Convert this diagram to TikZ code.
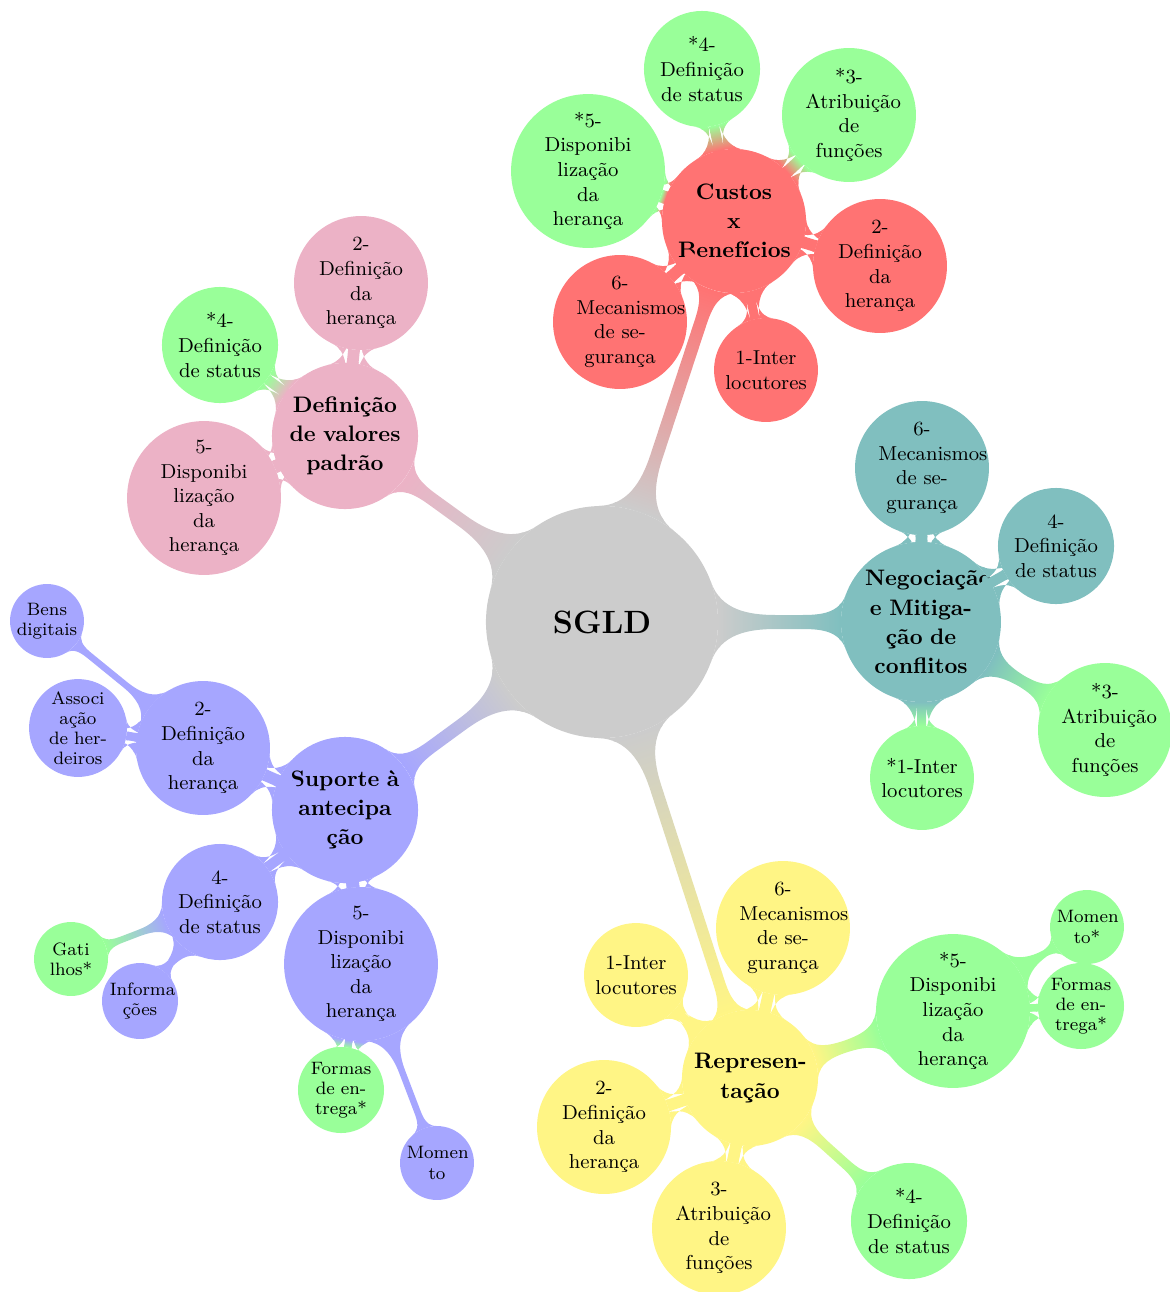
\documentclass[tikz,border=0pt]{standalone}
\usetikzlibrary{mindmap}
\definecolor{cgray}{gray}{0.8}
\colorlet{cred}{red!55}
\colorlet{cgreen}{green!40}
\colorlet{cteal}{teal!50}
\colorlet{cblue}{blue!35}
\colorlet{cpink}{purple!30}
\definecolor{cyel}{RGB}{255,245,133}
\tikzset{
  cbase/.style={circle, inner sep=0pt, align=center, text=black},
  Lzero/.style={cbase, minimum size=103.6pt, font=\Large\bfseries},
  Lone/.style={cbase, text width=50pt, font=\fontsize{10}{13}\selectfont\bfseries},
  Ltwo/.style={cbase, text width=39pt, font=\small},
  Lthree/.style={cbase, text width=27pt, font=\fontsize{8}{9}\selectfont},
  dfour/.style={minimum size=59.8pt},
  dthree/.style={minimum size=51.8pt},
  dfive/.style={minimum size=68.7pt},
  dtwo/.style={minimum size=46.4pt},
  sm/.style={minimum size=33pt},
}
\newcommand{\conn}[5][6pt]{\path[line width=#1] (#2) to[circle connection bar switch color=from (#4) to (#5)] (#3);}
\begin{document}
\begin{tikzpicture}[mindmap, x=0.4464pt, y=-0.4464pt]
\useasboundingbox (0,0) rectangle (1169,1292);
% root
\node[Lzero, fill=cgray] (root) at (602,622) {SGLD};
% level 1
\node[Lone, fill=cred, minimum size=64.3pt] (cus) at (734,221) {Custos\\x\\Benefícios};
\node[Lone, fill=cpink, minimum size=65.2pt] (val) at (345,436) {Definição\\de valores\\padrão};
\node[Lone, fill=cteal, minimum size=71.4pt] (neg) at (921,622) {Negociação\\e \mbox{Mitiga-}\\ção de\\conflitos};
\node[Lone, fill=cblue, minimum size=65.2pt] (sup) at (345,810) {Suporte à\\antecipa\\ção};
\node[Lone, fill=cyel, minimum size=60.7pt] (rep) at (750,1078) {\mbox{Represen-}\\tação};
% Custos children
\node[Ltwo, dthree, fill=cgreen] (c4) at (702,69) {*4-\\Definição\\de status};
\node[Ltwo, dfour, fill=cgreen] (c3) at (849,115) {*3-\\Atribuição\\de\\funções};
\node[Ltwo, dfive, fill=cgreen] (c5) at (588,171) {*5-\\Disponibi\\lização\\da\\herança};
\node[Ltwo, dfour, fill=cred] (c2) at (880,266) {2-\\Definição\\da\\herança};
\node[Ltwo, dfour, fill=cred] (c6) at (620,322) {6-\\Mecanismos\\de \mbox{se-}\\gurança};
\node[Ltwo, dtwo, fill=cred] (c1) at (766,370) {1-Inter\\locutores};
% valores children
\node[Ltwo, dfour, fill=cpink] (v2) at (361,283) {2-\\Definição\\da\\herança};
\node[Ltwo, dthree, fill=cgreen] (v4) at (220,345) {*4-\\Definição\\de status};
\node[Ltwo, dfive, fill=cpink] (v5) at (204,498) {5-\\Disponibi\\lização\\da\\herança};
% negociacao children
\node[Ltwo, dfour, fill=cteal] (n6) at (922,468) {6-\\Mecanismos\\de \mbox{se-}\\gurança};
\node[Ltwo, dthree, fill=cteal] (n4) at (1056,546) {4-\\Definição\\de status};
\node[Ltwo, dfour, fill=cgreen] (n3) at (1105,730) {*3-\\Atribuição\\de\\funções};
\node[Ltwo, dtwo, fill=cgreen] (n1) at (922,778) {*1-Inter\\locutores};
% suporte children
\node[Ltwo, dfour, fill=cblue] (s2) at (203,748) {2-\\Definição\\da\\herança};
\node[Ltwo, dthree, fill=cblue] (s4) at (220,902) {4-\\Definição\\de status};
\node[Ltwo, dfive, fill=cblue] (s5) at (361,964) {5-\\Disponibi\\lização\\da\\herança};
\node[Lthree, sm, fill=cblue] (s2a) at (47,621) {Bens\\digitais};
\node[Lthree, minimum size=43.7pt, fill=cblue] (s2b) at (78,728) {Associ\\ação\\de \mbox{her-}\\deiros};
\node[Lthree, sm, fill=cgreen] (s4a) at (71,959) {Gati\\lhos*};
\node[Lthree, minimum size=33.9pt, fill=cblue] (s4b) at (140,1001) {Informa\\ções};
\node[Lthree, minimum size=38.4pt, fill=cgreen] (s5a) at (341,1090) {Formas\\de \mbox{en-}\\trega*};
\node[Lthree, sm, fill=cblue] (s5b) at (437,1163) {Momen\\to};
% representacao children
\node[Ltwo, dtwo, fill=cyel] (r1) at (636,975) {1-Inter\\locutores};
\node[Ltwo, dfour, fill=cyel] (r6) at (783,928) {6-\\Mecanismos\\de \mbox{se-}\\gurança};
\node[Ltwo, dfive, fill=cgreen] (r5) at (953,1011) {*5-\\Disponibi\\lização\\da\\herança};
\node[Ltwo, dfour, fill=cyel] (r2) at (604,1127) {2-\\Definição\\da\\herança};
\node[Ltwo, dfour, fill=cyel] (r3) at (719,1228) {3-\\Atribuição\\de\\funções};
\node[Ltwo, dthree, fill=cgreen] (r4) at (909,1221) {*4-\\Definição\\de status};
\node[Lthree, sm, fill=cgreen] (r5a) at (1087,927) {Momen\\to*};
\node[Lthree, minimum size=38.4pt, fill=cgreen] (r5b) at (1081,1006) {Formas\\de \mbox{en-}\\trega*};
% connections
\conn[6pt]{root}{cus}{cgray}{cred}
\conn[6pt]{root}{val}{cgray}{cpink}
\conn[6pt]{root}{neg}{cgray}{cteal}
\conn[6pt]{root}{sup}{cgray}{cblue}
\conn[6pt]{root}{rep}{cgray}{cyel}
\conn[4pt]{cus}{c4}{cred}{cgreen}
\conn[4pt]{cus}{c3}{cred}{cgreen}
\conn[4pt]{cus}{c5}{cred}{cgreen}
\conn[4pt]{cus}{c2}{cred}{cred}
\conn[4pt]{cus}{c6}{cred}{cred}
\conn[4pt]{cus}{c1}{cred}{cred}
\conn[4pt]{val}{v2}{cpink}{cpink}
\conn[4pt]{val}{v4}{cpink}{cgreen}
\conn[4pt]{val}{v5}{cpink}{cpink}
\conn[4pt]{neg}{n6}{cteal}{cteal}
\conn[4pt]{neg}{n4}{cteal}{cteal}
\conn[4pt]{neg}{n3}{cteal}{cgreen}
\conn[4pt]{neg}{n1}{cteal}{cgreen}
\conn[4pt]{sup}{s2}{cblue}{cblue}
\conn[4pt]{sup}{s4}{cblue}{cblue}
\conn[4pt]{sup}{s5}{cblue}{cblue}
\conn[3pt]{s2}{s2a}{cblue}{cblue}
\conn[3pt]{s2}{s2b}{cblue}{cblue}
\conn[3pt]{s4}{s4a}{cblue}{cgreen}
\conn[3pt]{s4}{s4b}{cblue}{cblue}
\conn[3pt]{s5}{s5a}{cblue}{cgreen}
\conn[3pt]{s5}{s5b}{cblue}{cblue}
\conn[4pt]{rep}{r1}{cyel}{cyel}
\conn[4pt]{rep}{r6}{cyel}{cyel}
\conn[4pt]{rep}{r5}{cyel}{cgreen}
\conn[4pt]{rep}{r2}{cyel}{cyel}
\conn[4pt]{rep}{r3}{cyel}{cyel}
\conn[4pt]{rep}{r4}{cyel}{cgreen}
\conn[3pt]{r5}{r5a}{cgreen}{cgreen}
\conn[3pt]{r5}{r5b}{cgreen}{cgreen}
\end{tikzpicture}
\end{document}
